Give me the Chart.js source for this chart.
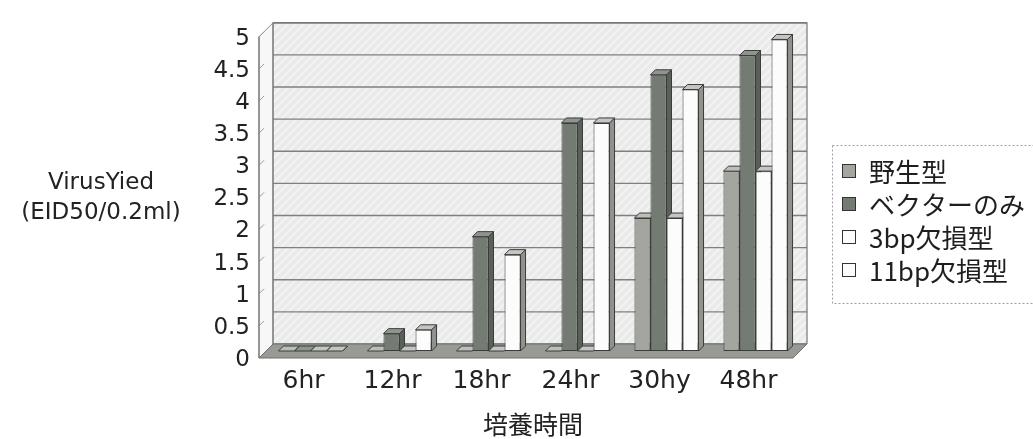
<!DOCTYPE html>
<html>
<head>
<meta charset="utf-8">
<script src="https://cdn.jsdelivr.net/npm/chart.js@4.4.1/dist/chart.umd.min.js"></script>
<style>
  html, body { margin: 0; padding: 0; background: #ffffff; }
  #wrap { width: 1033px; height: 439px; position: relative; }
</style>
</head>
<body>
<div id="wrap"><canvas id="c" width="1033" height="439"></canvas></div>
<script>
// Culture time points and virus yield per construct
const categories = ['6hr', '12hr', '18hr', '24hr', '30hy', '48hr'];
const seriesNames = ['野生型', 'ベクターのみ', '3bp欠損型', '11bp欠損型'];
const wildType   = [0, 0,    0,    0,    2.07, 2.8];
const vectorOnly = [0, 0.27, 1.78, 3.55, 4.3,  4.6];
const del3bp     = [0, 0,    0,    0,    2.07, 2.8];
const del11bp    = [0, 0.33, 1.5,  3.55, 4.07, 4.85];
const yTickValues = [0, 0.5, 1, 1.5, 2, 2.5, 3, 3.5, 4, 4.5, 5];
const yTickLabels = ['0', '0.5', '1', '1.5', '2', '2.5', '3', '3.5', '4', '4.5', '5'];
const yTitleLines = ['VirusYied', '(EID50/0.2ml)'];
const xTitle = '培養時間';

// face colours: front, side, top
const palette = [
  { front: '#a2a69f', side: '#7e827b', top: '#bcbfb9' },
  { front: '#737b73', side: '#586058', top: '#8f958e' },
  { front: '#fcfcfc', side: '#8f928d', top: '#c4c6c2' },
  { front: '#fcfcfc', side: '#8f928d', top: '#c4c6c2' }
];
const EDGE = '#3a3c3a';
const WALL_DEPTH = 7;   // half depth of the box, px
const BAR_DEPTH = 5;

function hatchPattern(ctx) {
  const p = document.createElement('canvas');
  p.width = 8; p.height = 8;
  const g = p.getContext('2d');
  g.fillStyle = '#eaeaea';
  g.fillRect(0, 0, 8, 8);
  g.strokeStyle = '#f3f3f3';
  g.lineWidth = 2;
  g.beginPath();
  g.moveTo(-2, 10); g.lineTo(10, -2);
  g.moveTo(-6, 6); g.lineTo(6, -6);
  g.moveTo(2, 14); g.lineTo(14, 2);
  g.stroke();
  return ctx.createPattern(p, 'repeat');
}

function poly(ctx, pts, fill) {
  ctx.beginPath();
  ctx.moveTo(pts[0][0], pts[0][1]);
  for (let i = 1; i < pts.length; i++) ctx.lineTo(pts[i][0], pts[i][1]);
  ctx.closePath();
  ctx.fillStyle = fill;
  ctx.fill();
  ctx.stroke();
}

// Box walls, floor, gridlines and the depth faces of each bar
const depthBox = {
  id: 'depthBox',
  beforeDatasetsDraw(chart) {
    const { ctx, chartArea: a, scales: { y } } = chart;
    const D = WALL_DEPTH;
    const y0 = y.getPixelForValue(0);
    const yTop = y.getPixelForValue(yTickValues[yTickValues.length - 1]);
    ctx.save();

    // back wall
    ctx.fillStyle = hatchPattern(ctx);
    ctx.fillRect(a.left + D, yTop - D, a.right - a.left, y0 - yTop);

    // left side wall
    ctx.strokeStyle = '#8c8c8c';
    ctx.lineWidth = 1;
    poly(ctx, [[a.left - D, yTop + D], [a.left + D, yTop - D], [a.left + D, y0 - D], [a.left - D, y0 + D]], '#f7f7f7');

    // gridlines on back wall, short marks on side wall
    yTickValues.forEach(v => {
      const p = y.getPixelForValue(v);
      ctx.strokeStyle = '#7f7f7f';
      ctx.lineWidth = 1.4;
      ctx.beginPath();
      ctx.moveTo(a.left + D, p - D);
      ctx.lineTo(a.right + D, p - D);
      ctx.stroke();
      ctx.strokeStyle = '#9a9a9a';
      ctx.lineWidth = 1;
      ctx.beginPath();
      ctx.moveTo(a.left - D, p + D);
      ctx.lineTo(a.left - D + 5, p + D - 5);
      ctx.stroke();
    });

    // wall outlines
    ctx.strokeStyle = '#777';
    ctx.lineWidth = 1.2;
    ctx.beginPath();
    ctx.moveTo(a.left + D, y0 - D);
    ctx.lineTo(a.left + D, yTop - D);
    ctx.lineTo(a.right + D, yTop - D);
    ctx.lineTo(a.right + D, y0 - D);
    ctx.stroke();
    ctx.beginPath();
    ctx.moveTo(a.left - D, yTop + D);
    ctx.lineTo(a.left - D, y0 + D);
    ctx.stroke();

    // floor
    ctx.strokeStyle = '#6d706b';
    ctx.lineWidth = 1;
    poly(ctx, [[a.left - D, y0 + D], [a.right - D, y0 + D], [a.right + D, y0 - D], [a.left + D, y0 - D]], '#979a95');

    // bar sides and tops, left to right
    const bars = [];
    chart.data.datasets.forEach((ds, i) => {
      chart.getDatasetMeta(i).data.forEach(el => bars.push({ el, c: palette[i] }));
    });
    bars.sort((p, q) => p.el.x - q.el.x);
    const d = BAR_DEPTH;
    ctx.strokeStyle = EDGE;
    ctx.lineWidth = 1;
    bars.forEach(({ el, c }) => {
      const l = el.x - el.width / 2, r = el.x + el.width / 2, t = el.y, b = el.base;
      poly(ctx, [[r, t], [r + d, t - d], [r + d, b - d], [r, b]], c.side);
      poly(ctx, [[l, t], [l + d, t - d], [r + d, t - d], [r, t]], c.top);
    });
    ctx.restore();
  },
  afterDraw(chart) {
    const { ctx } = chart;
    ctx.save();
    // vertical axis title, horizontal
    ctx.fillStyle = '#222';
    ctx.font = '23px "DejaVu Sans"';
    ctx.textAlign = 'center';
    ctx.textBaseline = 'middle';
    ctx.fillText(yTitleLines[0], 101, 183);
    ctx.fillText(yTitleLines[1], 101, 213);

    // legend
    const lx = 832, ly = 145;
    ctx.strokeStyle = '#a0a0a0';
    ctx.lineWidth = 1;
    ctx.setLineDash([2, 2]);
    ctx.strokeRect(lx + 0.5, ly + 0.5, 215, 158);
    ctx.setLineDash([]);
    ctx.font = '26px "Noto Sans CJK JP"';
    ctx.textAlign = 'left';
    chart.data.datasets.forEach((ds, i) => {
      const cy = 171 + i * 33;
      ctx.fillStyle = palette[i].front;
      ctx.fillRect(842, cy - 7, 14, 14);
      ctx.strokeStyle = '#333';
      ctx.strokeRect(842.5, cy - 6.5, 13, 13);
      ctx.fillStyle = '#1e1e1e';
      ctx.fillText(ds.label, 869, cy + 1);
    });
    ctx.restore();
  }
};

new Chart(document.getElementById('c'), {
  type: 'bar',
  data: {
    labels: categories,
    datasets: [wildType, vectorOnly, del3bp, del11bp].map((vals, i) => ({
      label: seriesNames[i],
      data: vals,
      backgroundColor: palette[i].front,
      borderColor: EDGE,
      borderWidth: 1,
      borderSkipped: false,
      categoryPercentage: 0.72,
      barPercentage: 1.0
    }))
  },
  options: {
    responsive: false,
    animation: false,
    devicePixelRatio: 1,
    layout: { padding: { top: 24, right: 233, left: 0, bottom: 0 } },
    plugins: { legend: { display: false }, tooltip: { enabled: false } },
    scales: {
      x: {
        grid: { display: false, drawTicks: false },
        border: { display: false },
        ticks: { color: '#222', font: { family: 'DejaVu Sans', size: 25 }, padding: 15, labelOffset: -7 },
        title: { display: true, text: xTitle, color: '#222', font: { family: 'Noto Sans CJK JP', size: 25 }, padding: { top: 0, bottom: 0 } },
        afterFit(s) { s.height = 88; }
      },
      y: {
        min: 0, max: 5,
        grid: { display: false, drawTicks: false },
        border: { display: false },
        afterBuildTicks(s) { s.ticks = yTickValues.map(v => ({ value: v })); },
        ticks: {
          color: '#222', font: { family: 'DejaVu Sans', size: 23 }, padding: 16, labelOffset: 9,
          callback: (v, i) => yTickLabels[i]
        },
        afterFit(s) { s.width = 266; }
      }
    }
  },
  plugins: [depthBox]
});
</script>
</body>
</html>
